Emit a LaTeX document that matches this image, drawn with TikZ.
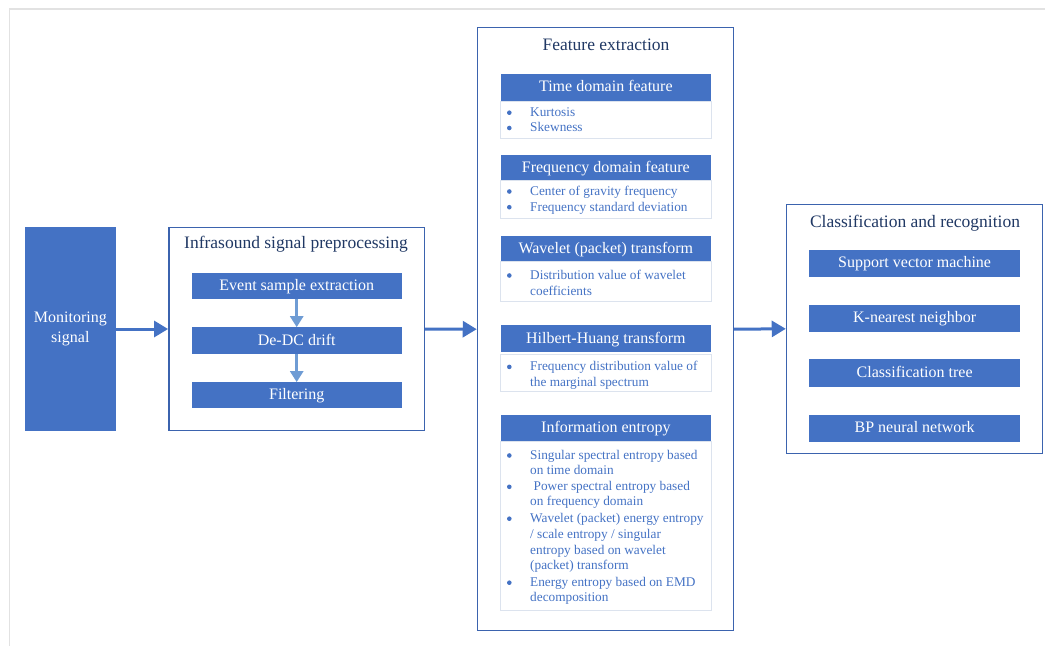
\documentclass[tikz,border=0pt]{standalone}
\usepackage{fontspec}
\setmainfont{Liberation Serif}
\usetikzlibrary{arrows.meta}
\definecolor{mblue}{HTML}{4472C4}
\definecolor{bordblue}{HTML}{3B63AE}
\definecolor{navy}{HTML}{203864}
\definecolor{ltblue}{HTML}{6F9CD4}
\definecolor{lborder}{HTML}{DCE3EE}
\definecolor{frame}{HTML}{E2E2E2}
\tikzset{
  fillbox/.style={fill=mblue, draw=none, text=white, inner sep=0pt, text height=11.6pt, text depth=3pt, font=\fontsize{16}{19}\selectfont},
  outerbox/.style={draw=bordblue, line width=1.3pt, fill=none, inner sep=0pt},
  listbox/.style={draw=lborder, line width=0.8pt, inner sep=0pt},
  ttl/.style={text=navy, inner sep=0pt, font=\fontsize{17.5}{21}\selectfont},
  itm/.style={text=mblue, inner sep=0pt, anchor=base west, font=\fontsize{13.3}{15.8}\selectfont},
  bul/.style={circle, fill=mblue, draw=none, inner sep=0pt, minimum size=4.6pt, yshift=3.8pt},
  bigarr/.style={draw=mblue, line width=3pt, -{Triangle[length=14pt,width=16pt]}, shorten >=0.3pt},
  smarr/.style={draw=ltblue, line width=3pt, -{Triangle[length=11pt,width=13pt]}},
}
\begin{document}
\begin{tikzpicture}[x=1pt,y=-1pt]
\useasboundingbox (0,0) rectangle (1045,646);
% frame
\coordinate (f1) at (9.3,646);
\coordinate (f2) at (9.3,9);
\coordinate (f3) at (1045,9);
\draw[frame, line width=1.2pt] (f1) -- (f2) -- (f3);

% monitoring signal
\node[fill=mblue, text=white, inner sep=0pt, minimum width=90.7pt, minimum height=203.4pt, align=center, font=\fontsize{16}{20}\selectfont] (mon) at (70.35,329) {Monitoring\\signal};

% preprocessing
\node[outerbox, minimum width=255.3pt, minimum height=203.4pt] (pre) at (296.7,329) {};
\node[ttl, anchor=base] (pret) at (296,248.3) {Infrasound signal preprocessing};
\node[fillbox, minimum width=210pt, minimum height=25.7pt] (ev) at (296.7,286.2) {Event sample extraction};
\node[fillbox, minimum width=210pt, minimum height=26.7pt] (dc) at (296.7,340.7) {De-DC drift};
\node[fillbox, minimum width=210pt, minimum height=26pt] (fl) at (296.7,395.3) {Filtering};
\draw[smarr] (ev.south) -- (dc.north);
\draw[smarr] (dc.south) -- (fl.north);

% feature extraction
\node[outerbox, minimum width=255.6pt, minimum height=603pt] (fe) at (605.5,329.2) {};
\node[ttl, anchor=base] (fet) at (606,50) {Feature extraction};

\node[fillbox, minimum width=210.3pt, minimum height=27pt] (h1) at (605.85,87.5) {Time domain feature};
\node[listbox, minimum width=210.3pt, minimum height=37.3pt] (l1) at (605.85,119.6) {};
\node[bul] (b11) at (509.3,116.5) {};
\node[itm] (t11) at (530,116.5) {Kurtosis};
\node[bul] (b12) at (509.3,131.8) {};
\node[itm] (t12) at (530,131.8) {Skewness};

\node[fillbox, minimum width=210.3pt, minimum height=25.3pt] (h2) at (605.85,167.7) {Frequency domain feature};
\node[listbox, minimum width=210.3pt, minimum height=38pt] (l2) at (605.85,199.3) {};
\node[bul] (b21) at (509.3,195.3) {};
\node[itm] (t21) at (530,195.3) {Center of gravity frequency};
\node[bul] (b22) at (509.3,211) {};
\node[itm] (t22) at (530,211) {Frequency standard deviation};

\node[fillbox, minimum width=210.3pt, minimum height=26pt] (h3) at (605.85,248.7) {Wavelet (packet) transform};
\node[listbox, minimum width=210.3pt, minimum height=40pt] (l3) at (605.85,281.7) {};
\node[bul] (b31) at (509.3,279.3) {};
\node[itm] (t31) at (530,279.3) {Distribution value of wavelet};
\node[itm] (t32) at (530,295) {coefficients};

\node[fillbox, minimum width=210.3pt, minimum height=27.3pt] (h4) at (605.85,338.7) {Hilbert-Huang transform};
\node[listbox, minimum width=210.3pt, minimum height=37pt] (l4) at (605.85,372.5) {};
\node[bul] (b41) at (509.3,370.7) {};
\node[itm] (t41) at (530,370.7) {Frequency distribution value of};
\node[itm] (t42) at (530,386) {the marginal spectrum};

\node[fillbox, minimum width=210.3pt, minimum height=26.7pt] (h5) at (605.85,428.3) {Information entropy};
\node[listbox, minimum width=210.3pt, minimum height=169pt] (l5) at (605.85,526.2) {};
\node[bul] (b51) at (509.3,459.3) {};
\node[itm] (t51) at (530,459.3) {Singular spectral entropy based};
\node[itm] (t52) at (530,474.6) {on time domain};
\node[bul] (b53) at (509.3,490.6) {};
\node[itm] (t53) at (533.5,490.6) {Power spectral entropy based};
\node[itm] (t54) at (530,505.8) {on frequency domain};
\node[bul] (b55) at (509.3,522.5) {};
\node[itm] (t55) at (530,522.5) {Wavelet (packet) energy entropy};
\node[itm] (t56) at (530,538.3) {/ scale entropy / singular};
\node[itm] (t57) at (530,554.1) {entropy based on wavelet};
\node[itm] (t58) at (530,569.9) {(packet) transform};
\node[bul] (b59) at (509.3,586.5) {};
\node[itm] (t59) at (530,586.5) {Energy entropy based on EMD};
\node[itm] (t510) at (530,601.8) {decomposition};

% classification
\node[outerbox, minimum width=255.6pt, minimum height=249pt] (cl) at (914.5,328.8) {};
\node[ttl, anchor=base] (clt) at (915,227.3) {Classification and recognition};
\node[fillbox, minimum width=210.7pt, minimum height=27.3pt] (c1) at (914.65,263.6) {Support vector machine};
\node[fillbox, minimum width=210.7pt, minimum height=26.7pt] (c2) at (914.65,318.3) {K-nearest neighbor};
\node[fillbox, minimum width=210.7pt, minimum height=27.3pt] (c3) at (914.65,373) {Classification tree};
\node[fillbox, minimum width=210.7pt, minimum height=26.7pt] (c4) at (914.65,428.3) {BP neural network};

% main arrows
\draw[bigarr] (mon.east) -- (pre.west);
\draw[bigarr] (pre.east) -- (fe.west);
\draw[bigarr] (fe.east) -- (cl.west);
\end{tikzpicture}
\end{document}
